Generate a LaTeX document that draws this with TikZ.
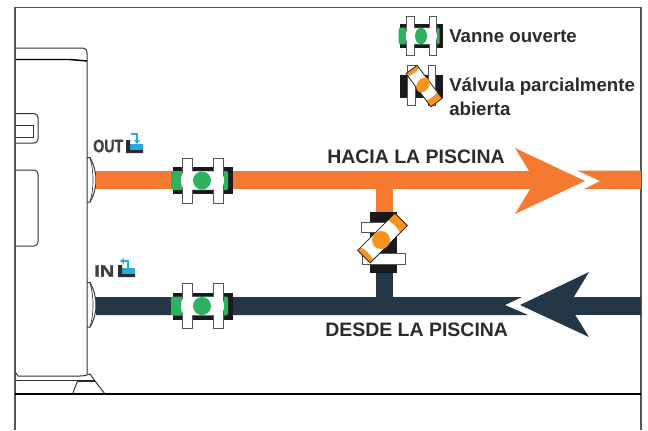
\documentclass[tikz,border=0pt]{standalone}
\usepackage{fontspec}
\setmainfont{Liberation Sans}
\newfontfamily\heavyfont[BoldFeatures={FakeBold=1.6}]{Liberation Sans}
\definecolor{pipeorange}{HTML}{F47A32}
\definecolor{pipedark}{HTML}{243746}
\definecolor{capgreen}{HTML}{2DB35F}
\definecolor{caporange}{HTML}{F7941E}
\definecolor{bodyblack}{HTML}{1A1A1E}
\definecolor{iconblue}{HTML}{29ABE2}
\definecolor{linegray}{HTML}{555555}
\definecolor{textdark}{HTML}{2B2B2B}
\tikzset{
  frameline/.style={draw=linegray,line width=0.9pt},
  unitline/.style={draw=black!80,line width=0.75pt},
  barbox/.style={fill=white,draw=linegray,line width=0.6pt},
  lbl/.style={font=\bfseries\fontsize{#1}{#1}\selectfont,text=textdark,inner sep=0pt,anchor=west},
  heavylbl/.style={font=\heavyfont\bfseries\fontsize{#1}{#1}\selectfont,text=textdark!90,inner sep=0pt,anchor=west},
  valveopen/.pic={
    \fill[bodyblack] (-29,-13.5) rectangle (31,13.5);
    \fill[capgreen,rounded corners=1.5] (-31,-9.5) rectangle (26,9.5);
    \path[barbox] (-20,-22.5) rectangle (-9.5,22.5);
    \path[barbox] (11,-22.5) rectangle (21.5,22.5);
    \fill[white] (-21,0) .. controls (-21,-6) and (-19,-9.2) .. (-15,-9.2) -- (15,-9.2) .. controls (20,-9.2) and (22,-6) .. (22,0) .. controls (22,6) and (20,9.2) .. (15,9.2) -- (-15,9.2) .. controls (-19,9.2) and (-21,6) .. (-21,0) -- cycle;
    \fill[capgreen] (0,0) ellipse (#1);
  },
  valvepart/.pic={
    \fill[caporange] (-26.3,-8.8) rectangle (26.3,8.8);
    \fill[white] (-22,-8.8) .. controls (-20,-3) and (-20,3) .. (-22,8.8) -- (16,8.8) .. controls (18,3) and (18,-3) .. (16,-8.8) -- cycle;
    \draw[black!85,line width=0.6pt] (-26.3,-8.8) rectangle (26.3,8.8);
  }
}
\begin{document}
\begin{tikzpicture}[x=0.75pt,y=-0.75pt]
\useasboundingbox (0,0) rectangle (648,430);
% frame
\draw[frameline] (15,430) -- (15,7.5) -- (641,7.5) -- (641,430);
\draw[black,line width=1.7pt] (15,394) -- (641,394);
% unit
\draw[unitline] (16,48) -- (83,48) .. controls (86,48) and (87,50) .. (87,53) -- (87,374);
\draw[black,line width=1.1pt] (16,59.5) -- (70,59.5) -- (87,61);
\draw[unitline,rounded corners=3] (16,113.5) -- (38,113.5) -- (38,143) -- (16,143);
\draw[unitline] (16,125) -- (33.5,125) -- (33.5,137) -- (16,137);
\draw[unitline,rounded corners=3] (16,170) -- (38,170) -- (38,246) -- (16,246);
\draw[unitline] (16,373) -- (18,376) -- (80,376) .. controls (84,376) and (87,375) .. (90,374) -- (95,381) -- (105,394);
\draw[unitline] (16,380.5) -- (95,380.5);
\draw[black!85,line width=1.2pt] (78,381) -- (95,381);
\draw[unitline] (77.5,381) -- (72.5,394);
\draw[unitline] (87,157.5) -- (90,157.5) .. controls (94,165) and (96,172) .. (96,180) .. controls (96,188) and (94,195) .. (90,202) -- (87,202);
\draw[unitline,line width=0.5pt] (90,157.5) .. controls (92,165) and (93,172) .. (93,180) .. controls (93,188) and (92,195) .. (90,202);
\draw[unitline] (87,282.5) -- (90,282.5) .. controls (94,290) and (96,297) .. (96,305) .. controls (96,313) and (94,320) .. (90,327) -- (87,327);
\draw[unitline,line width=0.5pt] (90,282.5) .. controls (92,290) and (93,297) .. (93,305) .. controls (93,313) and (92,320) .. (90,327);
% pipes
\fill[pipeorange] (96,171) -- (533,171) -- (535,181) -- (535,189) -- (96,189) -- cycle;
\fill[pipeorange] (515,148) -- (585,181) -- (515,214) -- (535,181) -- cycle;
\fill[pipeorange] (577,170.5) -- (641,170.5) -- (641,189) -- (584,189) -- (600,181) -- cycle;
\fill[pipeorange] (376,188) rectangle (393,213);
\fill[pipedark] (96,297) -- (522,297) -- (505,305) -- (528,315) -- (96,315) -- cycle;
\fill[pipedark] (589,272) -- (520,305) -- (589,337) -- (569,305) -- cycle;
\fill[pipedark] (563,297) rectangle (641,315);
\fill[pipedark] (376,272) rectangle (393,298);
% valves on pipes
\pic at (202,180.5) {valveopen={9 and 9}};
\pic at (202,306) {valveopen={9 and 9}};
% centre valve
\fill[bodyblack] (370,212) rectangle (397,273);
\path[barbox] (361,222) rectangle (400,232);
\path[barbox] (362,253) rectangle (405,264);
\pic[rotate=45] at (382.5,238) {valvepart};
\fill[caporange] (381,240) circle (9);
% legend
\pic[xscale=0.72,yscale=0.87] at (421,36) {valveopen={8.3 and 9.5}};
\fill[bodyblack] (400,75) rectangle (443,98);
\path[barbox] (407,65) rectangle (415,105);
\path[barbox] (428,65) rectangle (435,105);
\pic[rotate=-53,scale=0.79] at (424,86) {valvepart};
\fill[caporange,rotate around={-35:(423,85)}] (423,85) ellipse (6 and 8);
% labels
\node[lbl=14pt] (legA) at (449,36) {Vanne ouverte};
\node[lbl=14pt] (legB) at (449,87) {Válvula parcialmente};
\node[lbl=14pt] (legC) at (449,109) {abierta};
\node[lbl=14.6pt] (toPool) at (327,157) {HACIA LA PISCINA};
\node[lbl=14.6pt] (fromPool) at (325,330) {DESDE LA PISCINA};
\node[heavylbl=13.5pt,xscale=0.79] (outL) at (93,146) {OUT};
\node[heavylbl=12.5pt,xscale=1.2] (inL) at (94,271) {IN};
% OUT icon
\fill[iconblue] (130,144) rectangle (143,150);
\fill[textdark] (126,140) rectangle (130,153) (126,150) rectangle (143,153);
\draw[iconblue,line width=1.2pt] (131,134) -- (137,134) -- (137,140);
\fill[iconblue] (134,140) -- (140,140) -- (137,144) -- cycle;
% IN icon
\fill[iconblue] (122,268) rectangle (135,274);
\fill[textdark] (118,265) rectangle (122,277) (118,274) rectangle (135,277);
\draw[iconblue,line width=1.2pt] (128,268) -- (128,261) -- (124,261);
\fill[iconblue] (124,258) -- (124,264) -- (120,261) -- cycle;
\end{tikzpicture}
\end{document}
